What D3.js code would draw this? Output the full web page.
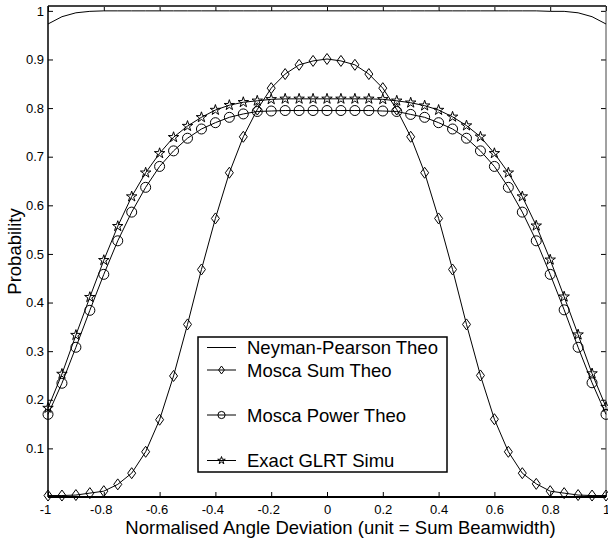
<!DOCTYPE html>
<html>
<head>
<meta charset="utf-8">
<script src="https://cdn.jsdelivr.net/npm/d3@7"></script>
<style>
  body { margin: 0; background: #fff; }
  text { font-family: "Liberation Sans", Arial, sans-serif; fill: #000; }
</style>
</head>
<body>
<script>
// angle deviation samples (unit = sum beamwidth)
var angles = [-1, -0.95, -0.9, -0.85, -0.8, -0.75, -0.7, -0.65, -0.6, -0.55, -0.5,
              -0.45, -0.4, -0.35, -0.3, -0.25, -0.2, -0.15, -0.1, -0.05, 0,
              0.05, 0.1, 0.15, 0.2, 0.25, 0.3, 0.35, 0.4, 0.45, 0.5,
              0.55, 0.6, 0.65, 0.7, 0.75, 0.8, 0.85, 0.9, 0.95, 1];

var neymanPearson = [0.973, 0.988, 0.996, 0.999, 1, 1, 1, 1, 1, 1, 1,
                     1, 1, 1, 1, 1, 1, 1, 1, 1, 1,
                     1, 1, 1, 1, 1, 1, 1, 1, 1, 1,
                     1, 1, 1, 1, 1, 0.999, 0.999, 0.996, 0.988, 0.973];

var moscaSum = [0.003, 0.003, 0.004, 0.008, 0.012, 0.026, 0.049, 0.093, 0.159, 0.249, 0.355,
                0.468, 0.573, 0.667, 0.741, 0.797, 0.841, 0.870, 0.889, 0.897, 0.901,
                0.897, 0.889, 0.870, 0.841, 0.797, 0.741, 0.667, 0.573, 0.468, 0.355,
                0.250, 0.160, 0.093, 0.049, 0.027, 0.012, 0.008, 0.004, 0.003, 0.003];

var moscaPower = [0.170, 0.234, 0.308, 0.384, 0.458, 0.527, 0.586, 0.637, 0.680, 0.712, 0.738,
                  0.757, 0.770, 0.781, 0.788, 0.793, 0.794, 0.795, 0.795, 0.795, 0.795,
                  0.795, 0.795, 0.795, 0.794, 0.793, 0.787, 0.781, 0.770, 0.757, 0.738,
                  0.712, 0.680, 0.637, 0.586, 0.527, 0.458, 0.385, 0.308, 0.235, 0.170];

var exactGlrt = [0.183, 0.253, 0.333, 0.411, 0.487, 0.557, 0.618, 0.667, 0.707, 0.740, 0.763,
                 0.781, 0.796, 0.806, 0.812, 0.815, 0.818, 0.819, 0.819, 0.819, 0.819,
                 0.819, 0.819, 0.819, 0.818, 0.815, 0.811, 0.805, 0.796, 0.782, 0.764,
                 0.741, 0.707, 0.667, 0.618, 0.558, 0.488, 0.412, 0.334, 0.254, 0.185];

var seriesNames = ["Neyman-Pearson Theo", "Mosca Sum Theo", "Mosca Power Theo", "Exact GLRT Simu"];
var seriesMarkers = ["none", "diamond", "circle", "star"];
var xTicks = [-1, -0.8, -0.6, -0.4, -0.2, 0, 0.2, 0.4, 0.6, 0.8, 1];
var yTicks = [0.1, 0.2, 0.3, 0.4, 0.5, 0.6, 0.7, 0.8, 0.9, 1];

var W = 608, H = 543;
var box = {left: 48, right: 606, top: 6, bottom: 497};

var svg = d3.select("body").append("svg")
    .attr("width", W)
    .attr("height", H);

var x = d3.scaleLinear().domain([-1, 1]).range([box.left, box.right]);
var y = d3.scaleLinear().domain([0, 1.01]).range([box.bottom, box.top]);

var fmt = function(d) { return d < 0 ? "-" + Math.abs(d) : String(d); };

// axes, ticks pointing inward like matlab
var gx = svg.append("g")
    .attr("transform", "translate(0," + box.bottom + ")")
    .call(d3.axisBottom(x).tickValues(xTicks).tickFormat(fmt)
          .tickSizeInner(-5).tickSizeOuter(0).tickPadding(8));
gx.selectAll("text").attr("font-size", 13)
    .attr("dx", function(d) { return d < 0 ? -3 : 0; });

var gy = svg.append("g")
    .attr("transform", "translate(" + box.left + ",0)")
    .call(d3.axisLeft(y).tickValues(yTicks).tickFormat(fmt)
          .tickSizeInner(-5).tickSizeOuter(0).tickPadding(4));
gy.selectAll("text").attr("font-size", 13);

svg.append("g")
    .attr("transform", "translate(0," + box.top + ")")
    .call(d3.axisTop(x).tickValues(xTicks).tickFormat("").tickSizeInner(-5).tickSizeOuter(0));
svg.append("g")
    .attr("transform", "translate(" + box.right + ",0)")
    .call(d3.axisRight(y).tickValues(yTicks).tickFormat("").tickSizeInner(-5).tickSizeOuter(0));

svg.selectAll(".domain").remove();
svg.selectAll(".tick line").attr("stroke", "#000");

// box
svg.append("line").attr("x1", box.left).attr("x2", box.right).attr("y1", box.top).attr("y2", box.top)
    .attr("stroke", "#444").attr("stroke-width", 2);
svg.append("line").attr("x1", box.right).attr("x2", box.right).attr("y1", box.top).attr("y2", box.bottom)
    .attr("stroke", "#444").attr("stroke-width", 1);
svg.append("line").attr("x1", box.left).attr("x2", box.right).attr("y1", box.bottom).attr("y2", box.bottom)
    .attr("stroke", "#000").attr("stroke-width", 2);
svg.append("line").attr("x1", box.left).attr("x2", box.left).attr("y1", box.top).attr("y2", box.bottom)
    .attr("stroke", "#000").attr("stroke-width", 1.5);

// markers
function markerPath(kind, s) {
  if (kind == "diamond") {
    return "M0," + (-5.5 * s) + "L" + (4 * s) + ",0L0," + (5.5 * s) + "L" + (-4 * s) + ",0Z";
  }
  if (kind == "circle") return d3.symbol(d3.symbolCircle, Math.PI * 25 * s * s)();
  if (kind == "star") return d3.symbol(d3.symbolStar, 34 * s * s)();
  return null;
}

var allSeries = [neymanPearson, moscaSum, moscaPower, exactGlrt];

var line = d3.line()
    .x(function(d, i) { return x(angles[i]); })
    .y(function(d) { return y(d); });

allSeries.forEach(function(vals, k) {
  svg.append("path")
      .datum(vals)
      .attr("fill", "none")
      .attr("stroke", "#000")
      .attr("stroke-width", 1)
      .attr("d", line);

  if (seriesMarkers[k] == "none") return;
  svg.selectAll(".m" + k)
      .data(vals)
      .enter().append("path")
      .attr("class", "m" + k)
      .attr("transform", function(d, i) { return "translate(" + x(angles[i]) + "," + y(d) + ")"; })
      .attr("d", markerPath(seriesMarkers[k], 1))
      .attr("fill", "none")
      .attr("stroke", "#000")
      .attr("stroke-width", 1);
});

// legend
var lg = svg.append("g").attr("transform", "translate(198,337)");
lg.append("rect")
    .attr("width", 249).attr("height", 135)
    .attr("fill", "#fff").attr("stroke", "#000").attr("stroke-width", 1.5);

var rowBase = [17, 39.5, 84.5, 130];
seriesNames.forEach(function(name, k) {
  var ly = rowBase[k] - 6.5;
  lg.append("line")
      .attr("x1", 9).attr("x2", 38).attr("y1", ly).attr("y2", ly)
      .attr("stroke", "#000").attr("stroke-width", 1);
  if (seriesMarkers[k] != "none") {
    lg.append("path")
        .attr("transform", "translate(23.5," + ly + ")")
        .attr("d", markerPath(seriesMarkers[k], 0.72))
        .attr("fill", "none").attr("stroke", "#000").attr("stroke-width", 1);
  }
  lg.append("text")
      .attr("x", 49).attr("y", rowBase[k])
      .attr("font-size", 18.5)
      .text(name);
});

// axis titles
svg.append("text")
    .attr("x", 340.5).attr("y", 534)
    .attr("text-anchor", "middle")
    .attr("font-size", 18.5)
    .text("Normalised Angle Deviation (unit = Sum Beamwidth)");

svg.append("text")
    .attr("transform", "translate(20.5," + (box.top + box.bottom) / 2 + ") rotate(-90)")
    .attr("text-anchor", "middle")
    .attr("font-size", 18.5)
    .text("Probability");
</script>
</body>
</html>
